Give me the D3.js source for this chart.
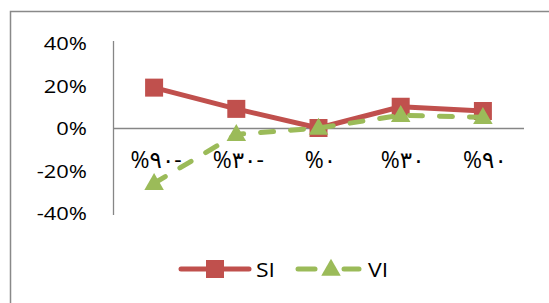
<!DOCTYPE html>
<html><head><meta charset="utf-8">
<script src="https://cdn.jsdelivr.net/npm/d3@7"></script>
<style>body{margin:0;background:#fff}svg{display:block}</style>
</head><body>
<svg id="c" width="549" height="303"></svg>
<script>
const categories = ["%٩٠-", "%٣٠-", "%٠", "%٣٠", "%٩٠"];
const siValues = [0.19, 0.09, 0.0, 0.10, 0.08];
const viValues = [-0.26, -0.03, 0.0, 0.06, 0.05];
const yTicks = [0.4, 0.2, 0, -0.2, -0.4];
const seriesNames = ["SI", "VI"];

const svg = d3.select("#c");
const siColor = "#C0504D", viColor = "#9BBB59", axisColor = "#868686";
const font = "'Open Sans', 'DejaVu Sans', sans-serif";

// outer frame
svg.append("path").attr("d", "M10.5,303 V11.5 H549").attr("fill","none").attr("stroke","#898989").attr("stroke-width",1.5);

const x = d3.scaleBand().domain(categories).range([113, 524]);
const y = d3.scaleLinear().domain([-0.4, 0.4]).range([213, 43]);

// y axis line
svg.append("line").attr("x1",113.5).attr("x2",113.5).attr("y1",y(0.4)-2).attr("y2",y(-0.4)+2)
  .attr("stroke",axisColor).attr("stroke-width",1.3);
// x axis at zero
svg.append("line").attr("x1",113).attr("x2",524).attr("y1",y(0)+0.5).attr("y2",y(0)+0.5)
  .attr("stroke",axisColor).attr("stroke-width",1.3);

// y tick labels
const fmt = t => d3.format(".0%")(t).replace("\u2212", "-");
yTicks.forEach(t => {
  svg.append("g").attr("transform", `translate(87,${y(t)+7}) scale(1.22,1)`)
    .append("text").attr("text-anchor","end").attr("font-family",font).attr("font-size",18)
    .attr("fill","#000").text(fmt(t));
});

// category labels
categories.forEach(c => {
  svg.append("g").attr("transform", `translate(${x(c)+x.bandwidth()/2+2},168)`)
    .append("text").attr("text-anchor","middle").attr("font-family",font).attr("font-size",23)
    .attr("letter-spacing","3px")
    .attr("direction","ltr").attr("unicode-bidi","bidi-override").style("unicode-bidi","bidi-override")
    .attr("fill","#000").text(c);
});

const cx = c => x(c) + x.bandwidth()/2;
const line = d3.line().x((d,i)=>cx(categories[i])).y(d=>y(d));

// SI series
svg.append("path").datum(siValues).attr("d", line).attr("fill","none")
  .attr("stroke",siColor).attr("stroke-width",5).attr("stroke-linejoin","round").attr("stroke-linecap","round");
svg.selectAll(".sq").data(siValues).enter().append("rect")
  .attr("x",(d,i)=>cx(categories[i])-9).attr("y",d=>y(d)-9).attr("width",18).attr("height",18)
  .attr("fill",siColor);

// VI series
svg.append("path").datum(viValues).attr("d", line).attr("fill","none")
  .attr("stroke",viColor).attr("stroke-width",5).attr("stroke-dasharray","13,17").attr("stroke-linecap","round");
const tri = d3.symbol().type(d3.symbolTriangle).size(165);
svg.selectAll(".tr").data(viValues).enter().append("path")
  .attr("d", tri).attr("transform",(d,i)=>`translate(${cx(categories[i])},${y(d)+1})`)
  .attr("fill",viColor);

// legend
const ly = 269;
svg.append("line").attr("x1",181).attr("x2",249).attr("y1",ly).attr("y2",ly)
  .attr("stroke",siColor).attr("stroke-width",5).attr("stroke-linecap","round");
svg.append("rect").attr("x",206).attr("y",ly-9).attr("width",18).attr("height",18).attr("fill",siColor);
svg.append("g").attr("transform",`translate(256,${ly+8}) scale(1.15,1)`).append("text")
  .attr("font-family",font).attr("font-size",20).attr("fill","#000").text(seriesNames[0]);

svg.append("line").attr("x1",298).attr("x2",315).attr("y1",ly).attr("y2",ly)
  .attr("stroke",viColor).attr("stroke-width",5).attr("stroke-linecap","round");
svg.append("line").attr("x1",344).attr("x2",359).attr("y1",ly).attr("y2",ly)
  .attr("stroke",viColor).attr("stroke-width",5).attr("stroke-linecap","round");
svg.append("path").attr("d",tri).attr("transform",`translate(331,${ly+1})`).attr("fill",viColor);
svg.append("g").attr("transform",`translate(368,${ly+8}) scale(1.15,1)`).append("text")
  .attr("font-family",font).attr("font-size",20).attr("fill","#000").text(seriesNames[1]);
</script>
</body></html>
